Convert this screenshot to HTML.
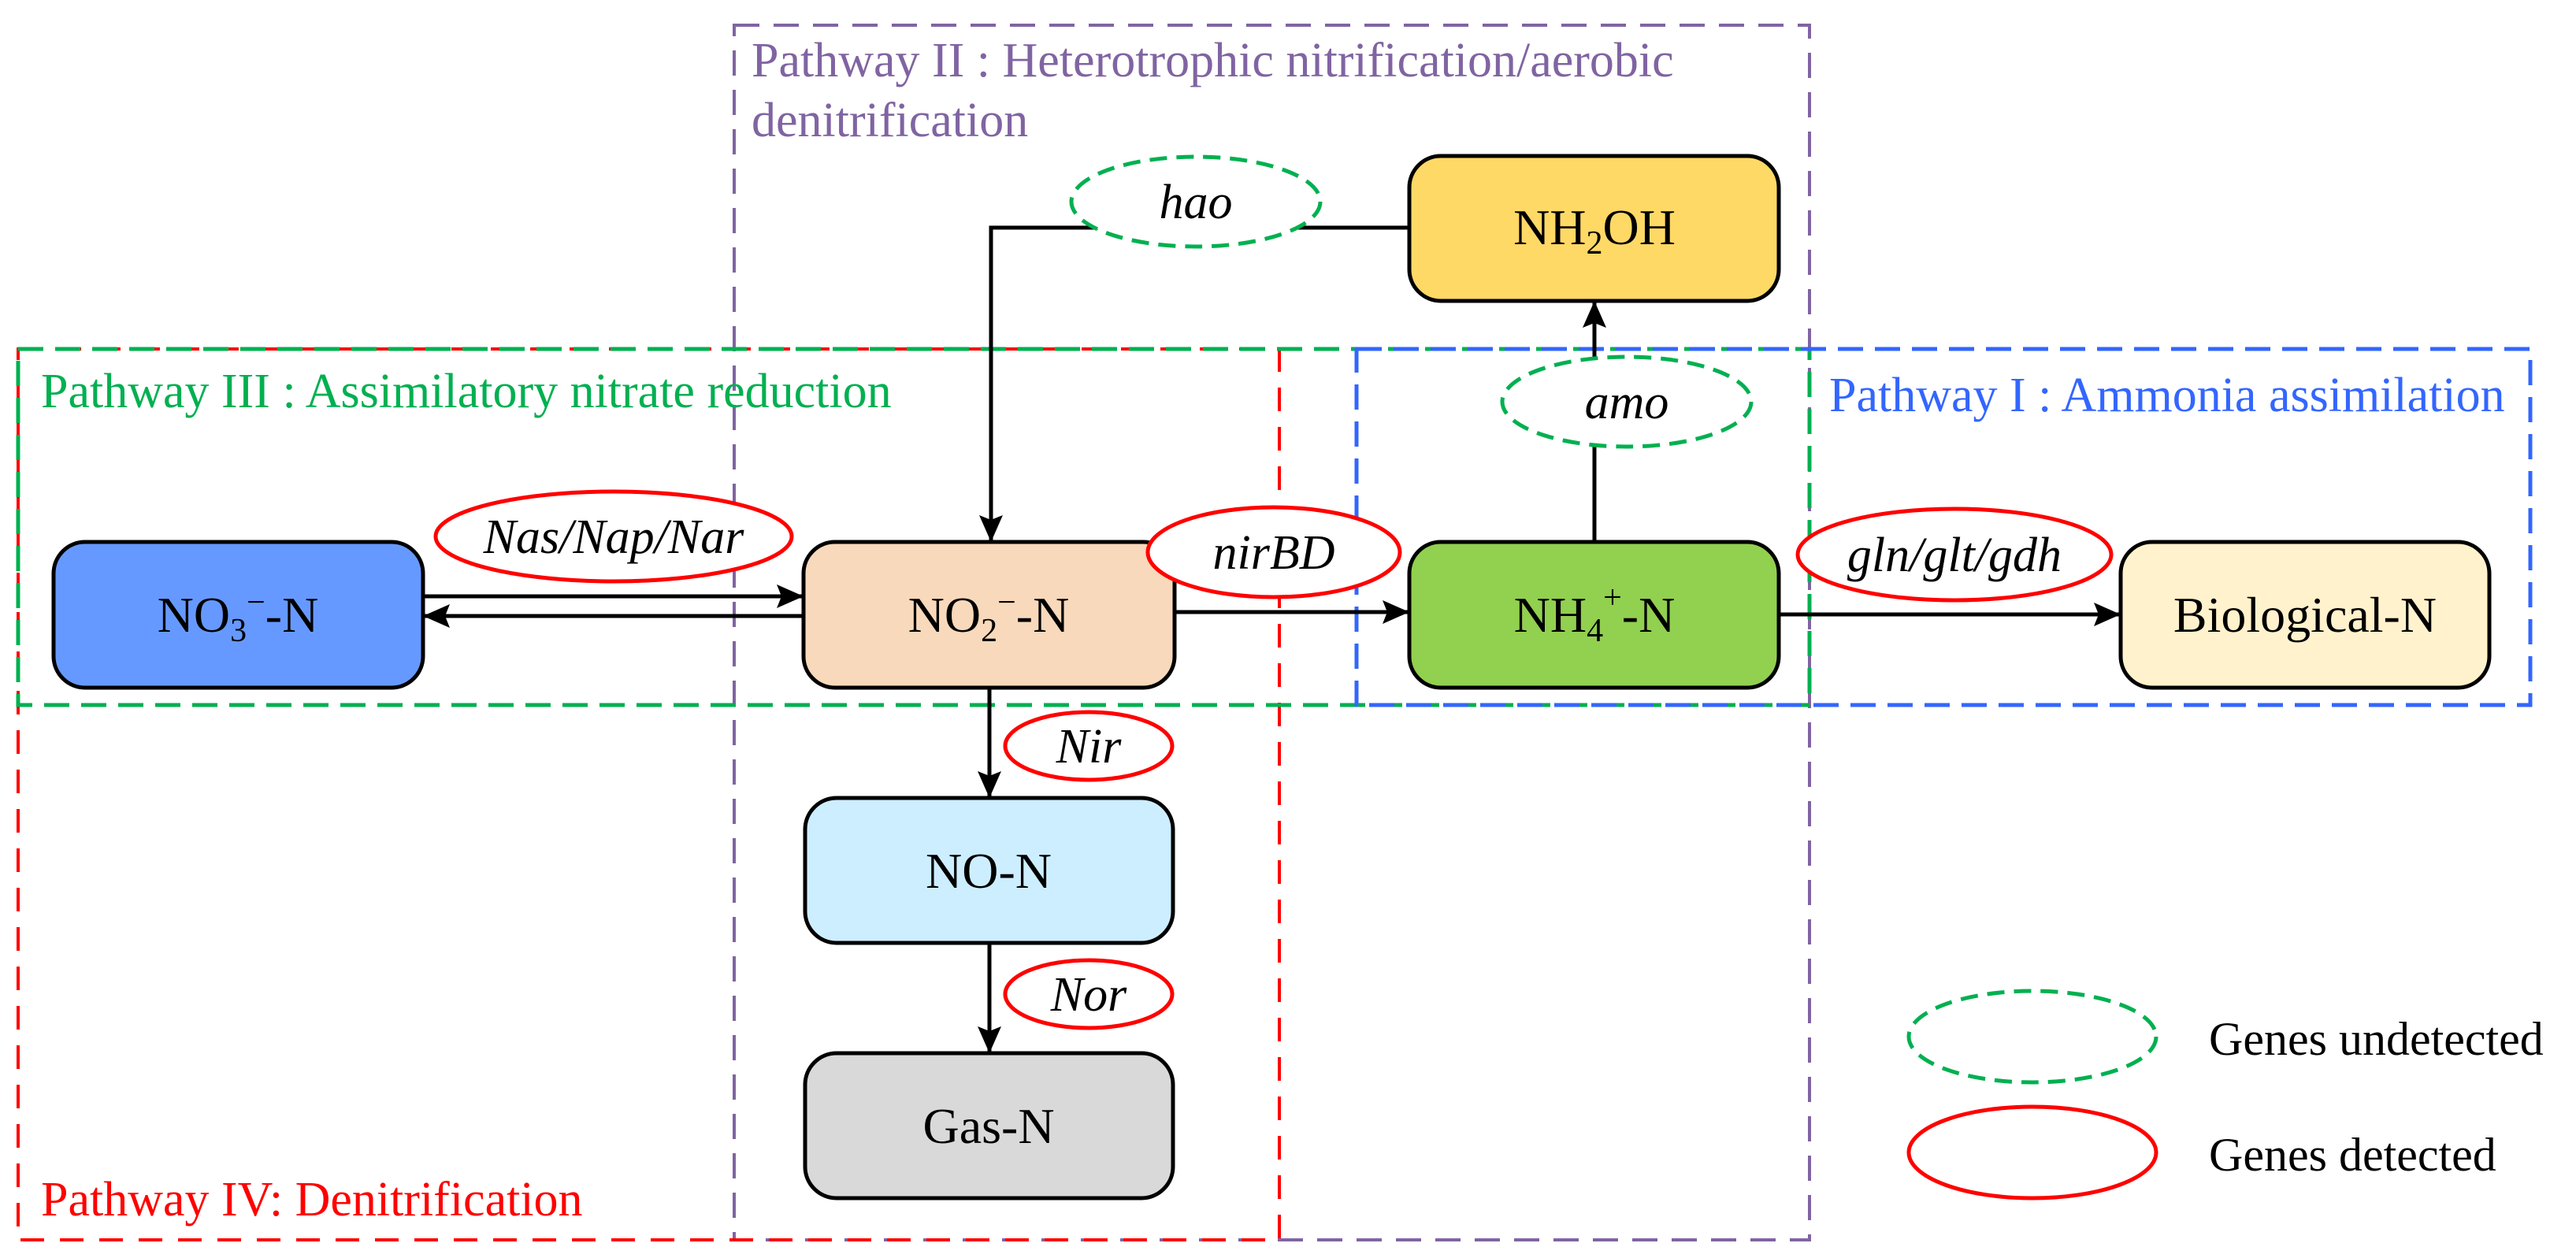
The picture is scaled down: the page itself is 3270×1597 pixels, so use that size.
<!DOCTYPE html>
<html><head><meta charset="utf-8"><style>
html,body{margin:0;padding:0;background:#fff;}
svg{display:block;}
text{font-family:"Liberation Serif",serif;}
</style></head><body>
<svg width="3270" height="1597" viewBox="0 0 3270 1597" xmlns="http://www.w3.org/2000/svg">
<defs>
<marker id="ah" markerWidth="34" markerHeight="30" refX="32" refY="15" orient="auto" markerUnits="userSpaceOnUse" viewBox="0 0 34 30">
<path d="M0,0 L34,15 L0,30 L6,15 Z" fill="#000"/>
</marker>
</defs>
<style>
.box{stroke:#000;stroke-width:5;}
.ln{stroke:#000;stroke-width:5;fill:none;}
.nt{font-size:64px;fill:#000;text-anchor:middle;}
.gt{font-size:62px;font-style:italic;fill:#000;text-anchor:middle;}
.det{fill:#fff;stroke:#ff0000;stroke-width:5;}
.und{fill:#fff;stroke:#00b050;stroke-width:5;stroke-dasharray:22 12;}
</style>

<rect x="932" y="32" width="1365" height="1542" fill="none" stroke="#8064a2" stroke-width="4" stroke-dasharray="32 18"/>
<rect x="23" y="443" width="1601" height="1131" fill="none" stroke="#ff0000" stroke-width="4" stroke-dasharray="30 20"/>
<rect x="23" y="443" width="2274" height="452" fill="none" stroke="#00b050" stroke-width="5" stroke-dasharray="32 15"/>
<rect x="1722" y="443" width="1490" height="452" fill="none" stroke="#3366ff" stroke-width="5" stroke-dasharray="32 15"/>

<text x="954" y="97" font-size="62" fill="#8064a2">Pathway II : Heterotrophic nitrification/aerobic</text>
<text x="954" y="173" font-size="62" fill="#8064a2">denitrification</text>
<text x="52" y="517" font-size="62" fill="#00b050">Pathway III : Assimilatory nitrate reduction</text>
<text x="2322" y="522" font-size="62" fill="#3366ff">Pathway I : Ammonia assimilation</text>
<text x="52" y="1543" font-size="62" fill="#ff0000">Pathway IV: Denitrification</text>

<path class="ln" d="M537,757 L1018,757" marker-end="url(#ah)"/>
<path class="ln" d="M1020,782 L539,782" marker-end="url(#ah)"/>
<path class="ln" d="M1789,289 L1258,289 L1258,686" marker-end="url(#ah)"/>
<path class="ln" d="M1491,777 L1787,777" marker-end="url(#ah)"/>
<path class="ln" d="M2258,780 L2690,780" marker-end="url(#ah)"/>
<path class="ln" d="M2024,688 L2024,384" marker-end="url(#ah)"/>
<path class="ln" d="M1256,873 L1256,1011" marker-end="url(#ah)"/>
<path class="ln" d="M1256,1197 L1256,1335" marker-end="url(#ah)"/>

<rect class="box" x="68" y="688" width="469" height="185" rx="40" fill="#6699ff"/>
<text class="nt" x="302" y="802">NO<tspan font-size="42" dy="12">3</tspan><tspan font-size="42" dy="-36">−</tspan><tspan dy="24">-N</tspan></text>
<rect class="box" x="1020" y="688" width="471" height="185" rx="40" fill="#f8d9bb"/>
<text class="nt" x="1255" y="802">NO<tspan font-size="42" dy="12">2</tspan><tspan font-size="42" dy="-36">−</tspan><tspan dy="24">-N</tspan></text>
<rect class="box" x="1789" y="688" width="469" height="185" rx="40" fill="#92d050"/>
<text class="nt" x="2024" y="802">NH<tspan font-size="42" dy="12">4</tspan><tspan font-size="42" dy="-42">+</tspan><tspan dy="30">-N</tspan></text>
<rect class="box" x="2692" y="688" width="468" height="185" rx="40" fill="#fff2cc"/>
<text class="nt" x="2926" y="802">Biological-N</text>
<rect class="box" x="1789" y="198" width="469" height="184" rx="40" fill="#ffd966"/>
<text class="nt" x="2024" y="310">NH<tspan font-size="42" dy="12">2</tspan><tspan dy="-12">OH</tspan></text>
<rect class="box" x="1022" y="1013" width="467" height="184" rx="40" fill="#cdeeff"/>
<text class="nt" x="1255" y="1127">NO-N</text>
<rect class="box" x="1022" y="1337" width="467" height="184" rx="40" fill="#d9d9d9"/>
<text class="nt" x="1255" y="1451">Gas-N</text>

<ellipse class="det" cx="779" cy="681" rx="226" ry="57"/>
<text class="gt" x="779" y="702">Nas/Nap/Nar</text>
<ellipse class="det" cx="1617" cy="701" rx="160" ry="57"/>
<text class="gt" x="1617" y="722">nirBD</text>
<ellipse class="det" cx="2481" cy="704" rx="199" ry="58"/>
<text class="gt" x="2481" y="725">gln/glt/gdh</text>
<ellipse class="und" cx="1518" cy="256" rx="158" ry="57"/>
<text class="gt" x="1518" y="277">hao</text>
<ellipse class="und" cx="2065" cy="510" rx="158" ry="57"/>
<text class="gt" x="2065" y="531">amo</text>
<ellipse class="det" cx="1382" cy="947" rx="106" ry="43"/>
<text class="gt" x="1382" y="968">Nir</text>
<ellipse class="det" cx="1382" cy="1262" rx="106" ry="43"/>
<text class="gt" x="1382" y="1283">Nor</text>

<ellipse class="und" cx="2580" cy="1316" rx="157" ry="58"/>
<text x="2804" y="1339" font-size="60" fill="#000">Genes undetected</text>
<ellipse class="det" cx="2580" cy="1463" rx="157" ry="58"/>
<text x="2804" y="1486" font-size="60" fill="#000">Genes detected</text>
</svg>
</body></html>
